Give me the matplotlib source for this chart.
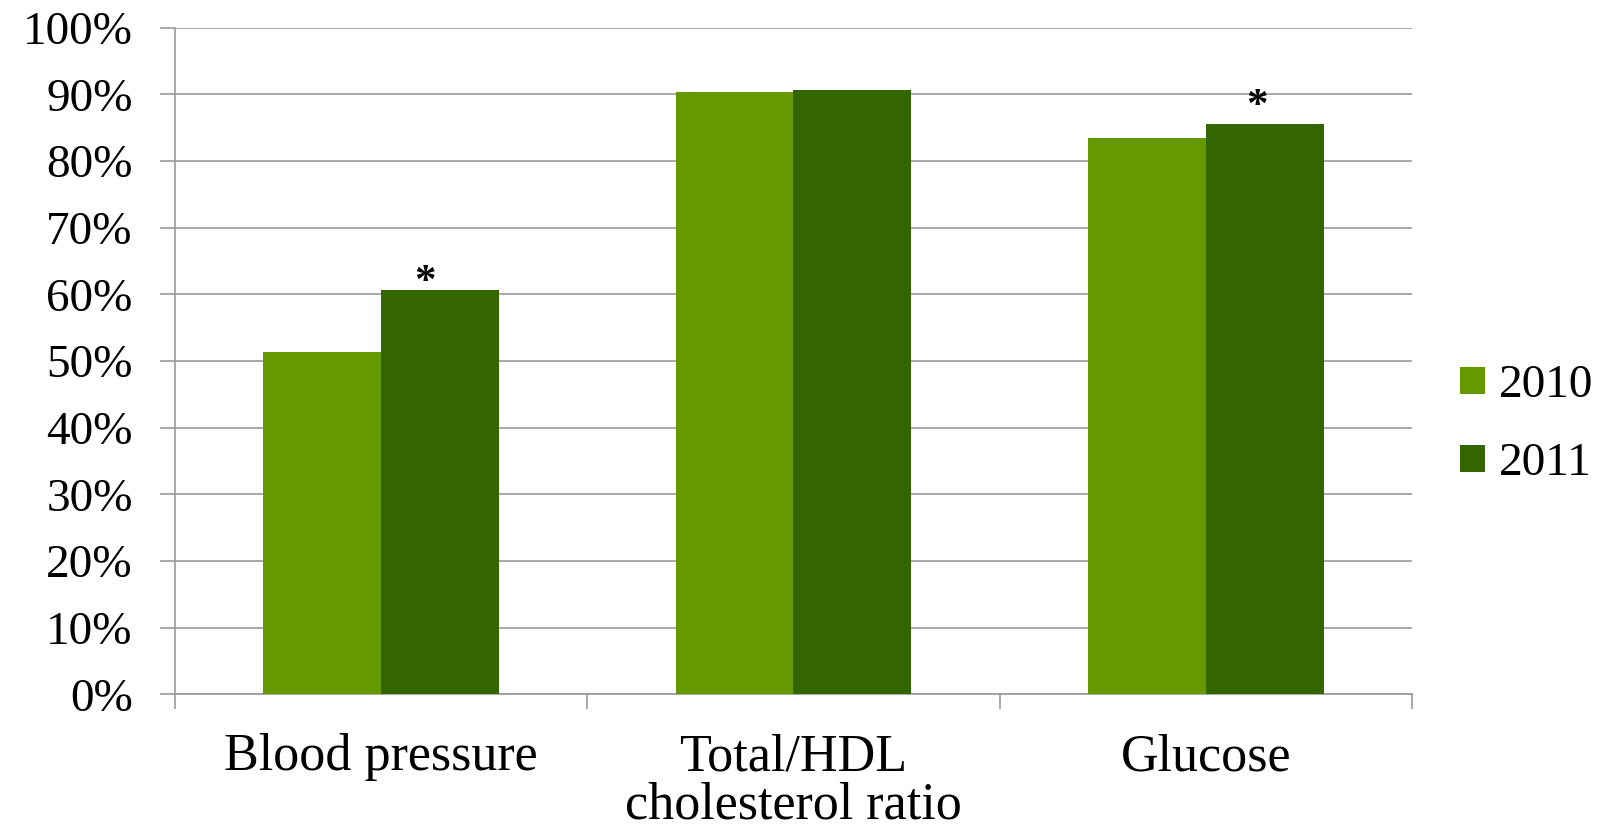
import matplotlib
matplotlib.use("Agg")
import matplotlib.pyplot as plt
import numpy as np

categories = ["Blood pressure", "Total/HDL\ncholesterol ratio", "Glucose"]
series_names = ["2010", "2011"]
values_2010 = [51.3, 90.3, 83.4]
values_2011 = [60.6, 90.6, 85.6]
yticks = [0, 10, 20, 30, 40, 50, 60, 70, 80, 90, 100]
ytick_labels = ["0%", "10%", "20%", "30%", "40%", "50%", "60%", "70%", "80%", "90%", "100%"]
# significance markers: (category index, series index)
stars = [(0, 1), (2, 1)]

colors = ["#669900", "#336600"]
FONT = "Liberation Serif"
plt.rcParams['font.family'] = [FONT, 'DejaVu Serif']

W, H = 1615, 826
fig = plt.figure(figsize=(W / 100, H / 100), dpi=100)
ax = fig.add_axes([175 / W, 1 - 694.3 / H, (1412 - 175) / W, (694.3 - 27.7) / H])

x = np.arange(len(categories))
bw = 1 / 3.5
series = [values_2010, values_2011]
offsets = [-bw / 2, bw / 2]
for vals, off, col, name in zip(series, offsets, colors, series_names):
    ax.bar(x + off, vals, width=bw, color=col, label=name, zorder=3, linewidth=0)

star_dx = [-0.037, -0.018]
star_dy = [5, 12]
for (ci, si), dx, dy in zip(stars, star_dx, star_dy):
    ax.annotate("*", xy=(x[ci] + offsets[si] + dx, series[si][ci]), xytext=(0, dy),
                textcoords="offset points", ha="center", va="center", fontsize=31,
                fontweight="bold", color="black", zorder=4)

ax.set_xlim(-0.5, len(categories) - 0.5)
ax.set_ylim(0, 100)
ax.set_yticks(yticks)
ax.set_yticklabels(ytick_labels, fontsize=34)
ax.set_xticks(x)
ax.set_xticklabels(categories, fontsize=37.5, linespacing=1.0)
ax.set_xticks(np.arange(len(categories) + 1) - 0.5, minor=True)

grid_col = "#999999"
ax.yaxis.grid(True, color=grid_col, linewidth=1.2, zorder=0)
ax.set_axisbelow(True)
for s in ["top", "right"]:
    ax.spines[s].set_visible(False)
for s in ["left", "bottom"]:
    ax.spines[s].set_color(grid_col)
    ax.spines[s].set_linewidth(1.2)

ax.tick_params(axis="y", length=10.5, width=1.2, color=grid_col, pad=20, labelcolor="black")
ax.tick_params(axis="x", which="major", length=0, pad=28, labelcolor="black")
ax.tick_params(axis="x", which="minor", length=11, width=1.2, color=grid_col)

leg = fig.legend(loc="center left", bbox_to_anchor=(1460 / W, 1 - 425 / H), frameon=False,
                 fontsize=34, handlelength=0.53, handleheight=0.53, handletextpad=0.3,
                 labelspacing=0.75, borderpad=0, borderaxespad=0)

fig.savefig("out.png", dpi=100)
